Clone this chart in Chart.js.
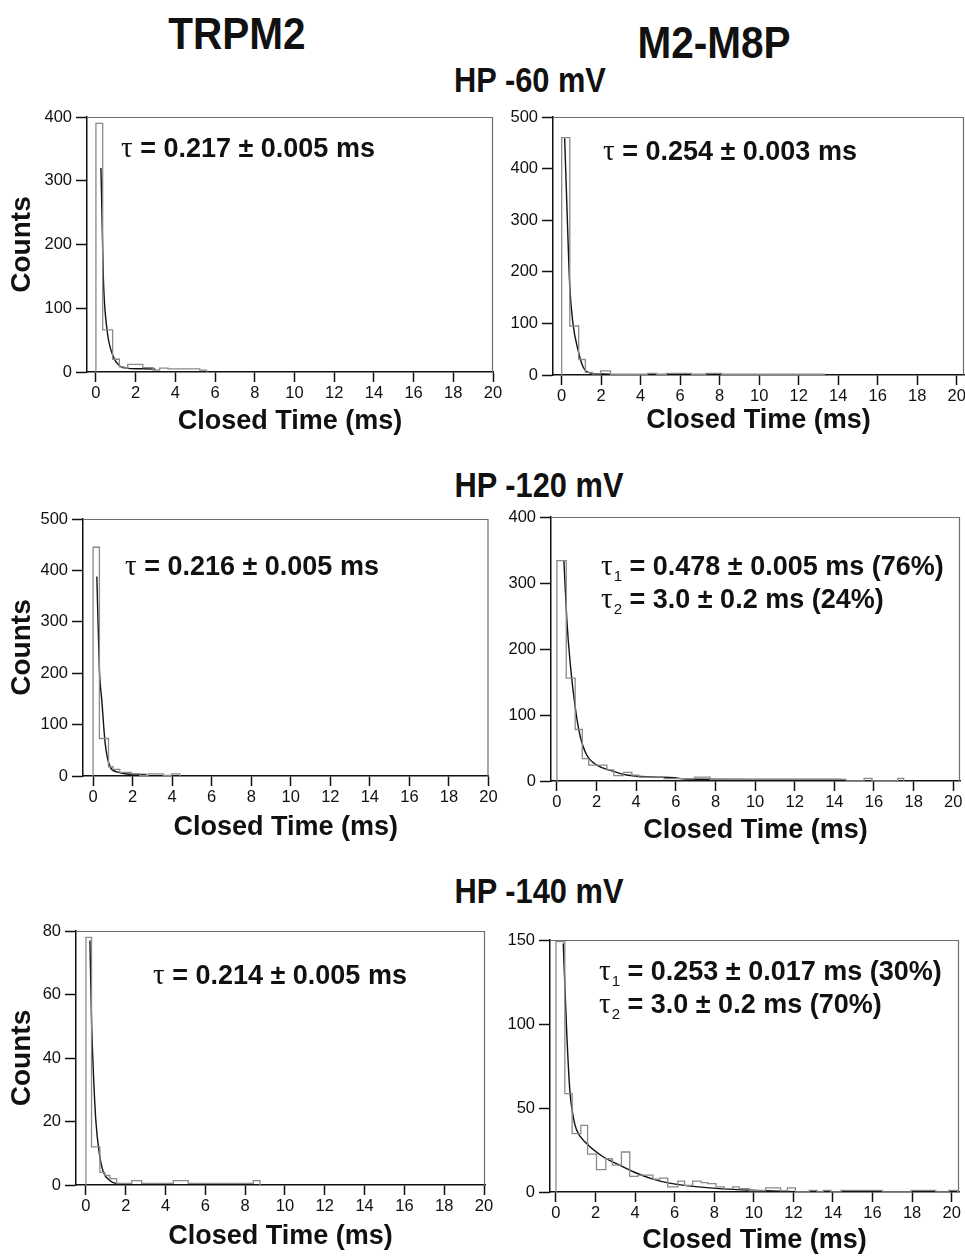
<!DOCTYPE html>
<html lang="en">
<head>
<meta charset="UTF-8" />
<title>Closed time histograms</title>
<style>
  body { margin: 0; background: #fff; }
  .page {
    position: relative;
    width: 965px;
    height: 1258px;
    overflow: hidden;
    font-family: "Liberation Sans", Arial, sans-serif;
    color: #111;
  }
  .panel { position: absolute; }
  .head {
    position: absolute;
    width: 400px;
    text-align: center;
    font-weight: bold;
    line-height: 1;
    white-space: nowrap;
    transform: scaleX(0.9);
  }
</style>
<script src="https://cdn.jsdelivr.net/npm/chart.js"></script>
</head>
<body>
<div class="page" id="page">
  <div class="head" style="left:37px; top:11px; font-size:45px;">TRPM2</div>
  <div class="head" style="left:514px; top:20px; font-size:45px;">M2-M8P</div>
  <div class="head" style="left:330px; top:62px; font-size:35px; transform:scaleX(0.88);">HP -60 mV</div>
  <div class="head" style="left:339px; top:467px; font-size:35px; transform:scaleX(0.88);">HP -120 mV</div>
  <div class="head" style="left:339px; top:873px; font-size:35px; transform:scaleX(0.88);">HP -140 mV</div>
</div>
<script>
// ---- data ----
const xTicks = [0, 2, 4, 6, 8, 10, 12, 14, 16, 18, 20];

// TRPM2, HP -60 mV
const trpm2_60_yTicks = [0, 100, 200, 300, 400];
const trpm2_60_edges = [0, 0.34, 0.84, 1.18, 1.42, 1.6, 2.36, 2.88, 3.21, 3.63, 5.23, 5.57];
const trpm2_60_counts = [390, 66, 20, 8, 6, 12, 7, 3, 6, 5, 3];
const trpm2_60_fitT = [0.25, 0.29, 0.37, 0.54, 0.88, 1.22, 1.55, 2.0, 2.4, 3.0];
const trpm2_60_fitY = [320, 270, 150, 71, 24, 9, 6, 5, 5, 4.5];

// M2-M8P, HP -60 mV
const m2m8p_60_yTicks = [0, 100, 200, 300, 400, 500];
const m2m8p_60_edges = [0, 0.41, 0.86, 1.2, 1.55, 1.97, 2.47, 4.35, 4.8, 5.3, 6.57, 7.3, 8.1, 13.3];
const m2m8p_60_counts = [460, 95, 30, 5, 2, 8, 1.5, 3, 1.5, 3, 1.5, 3, 1.5];
const m2m8p_60_fitT = [0.15, 0.27, 0.41, 0.57, 0.83, 1.08, 1.42, 2.1, 2.5];
const m2m8p_60_fitY = [459, 320, 171, 100, 48, 16, 4, 2, 1.5];

// TRPM2, HP -120 mV
const trpm2_120_yTicks = [0, 100, 200, 300, 400, 500];
const trpm2_120_edges = [0, 0.32, 0.78, 1.01, 1.35, 1.94, 2.37, 2.79, 3.55, 3.97, 4.39];
const trpm2_120_counts = [445, 73, 18, 13, 7, 4, 1, 4, 1, 4];
const trpm2_120_fitT = [0.19, 0.32, 0.44, 0.61, 0.86, 1.2, 1.7, 2.7];
const trpm2_120_fitY = [388, 206, 148, 64, 18, 8, 4, 3];

// M2-M8P, HP -120 mV
const m2m8p_120_yTicks = [0, 100, 200, 300, 400];
const m2m8p_120_edges = [0, 0.47, 0.92, 1.28, 1.6, 2.52, 2.87, 3.36, 3.78, 4.12, 5.4, 6.94, 7.73, 14.6, 15.5, 15.9, 17.2, 17.5];
const m2m8p_120_counts = [334, 156, 78, 34, 24, 17, 8, 13, 9, 6, 3.5, 6, 2.5, 0, 4, 0, 4];
const m2m8p_120_fitT = [0.35, 0.5, 0.67, 0.92, 1.18, 1.51, 2.02, 2.69, 3.53, 4.87, 5.9, 6.5, 9.9, 14.3, 14.7];
const m2m8p_120_fitY = [334, 244, 178, 112, 67, 39, 24, 16, 9, 6, 5, 3, 2.5, 2.5, 0];

// TRPM2, HP -140 mV
const trpm2_140_yTicks = [0, 20, 40, 60, 80];
const trpm2_140_edges = [0, 0.28, 0.7, 0.95, 1.2, 1.54, 2.3, 2.8, 4.39, 5.14, 8.41, 8.74];
const trpm2_140_counts = [78, 12, 4, 3, 2, 0.5, 1.4, 0.5, 1.4, 0.5, 1.4];
const trpm2_140_fitT = [0.2, 0.28, 0.37, 0.5, 0.67, 0.87, 1.2, 1.5, 2.0];
const trpm2_140_fitY = [77, 52, 36, 20, 10, 4.2, 1.4, 0.5, 0.3];

// M2-M8P, HP -140 mV
const m2m8p_140_yTicks = [0, 50, 100, 150];
const m2m8p_140_edges = [0, 0.45, 0.82, 1.26, 1.6, 2.05, 2.52, 2.85, 3.31, 3.73, 4.15, 4.9, 5.24, 5.65, 6.16,
  6.5, 6.91, 7.34, 7.67, 8.09, 8.51, 8.93, 9.26, 9.77, 10.6, 11.35, 11.7, 12.1, 12.8, 13.2, 13.5, 13.9,
  14.4, 16.5, 17.95, 19.2, 19.85, 20.3];
const m2m8p_140_counts = [149, 58.5, 34.7, 39.6, 22.6, 13.3, 19.8, 16, 23.8, 9.3, 10, 7.7, 8.3, 3, 6.5,
  4, 6.5, 5.6, 5, 3, 2, 3, 2, 0.8, 2.4, 0.8, 2.4, 0, 1, 0, 1, 0, 1, 0, 1, 0, 1];
const m2m8p_140_fitT = [0.37, 0.54, 0.7, 0.87, 1.04, 1.54, 2.38, 3.22, 4.06, 4.9, 5.74, 6.58, 8.26, 9.94, 11.6, 12.5];
const m2m8p_140_fitY = [148, 96.5, 60.8, 45, 37, 29, 21, 16, 11.3, 7.7, 5.3, 3.8, 2, 1, 0.4, 0];

// fit labels
const trpm2_60_note = [{ sub: "", text: " = 0.217 ± 0.005 ms" }];
const m2m8p_60_note = [{ sub: "", text: " = 0.254 ± 0.003 ms" }];
const trpm2_120_note = [{ sub: "", text: " = 0.216 ± 0.005 ms" }];
const m2m8p_120_note = [{ sub: "1", text: " = 0.478 ± 0.005 ms (76%)" }, { sub: "2", text: " = 3.0 ± 0.2 ms (24%)" }];
const trpm2_140_note = [{ sub: "", text: " = 0.214 ± 0.005 ms" }];
const m2m8p_140_note = [{ sub: "1", text: " = 0.253 ± 0.017 ms (30%)" }, { sub: "2", text: " = 3.0 ± 0.2 ms (70%)" }];

const FONT = '"Liberation Sans", Arial, sans-serif';
const INK = "#111";

// outline of a histogram: left edges + counts, drawn as a stepped line
function stepPoints(edges, counts) {
  const pts = [{ x: edges[0], y: 0 }];
  counts.forEach((c, i) => pts.push({ x: edges[i], y: c }));
  pts.push({ x: edges[edges.length - 1], y: 0 });
  return pts;
}

function fitPoints(ts, ys) {
  return ts.map((t, i) => ({ x: t, y: ys[i] }));
}

// grey top/right border of the plot box
const framePlugin = {
  id: "frame",
  beforeDatasetsDraw(chart) {
    const { ctx, chartArea: a } = chart;
    ctx.save();
    ctx.strokeStyle = "#6e6e6e";
    ctx.lineWidth = 1.2;
    ctx.beginPath();
    ctx.moveTo(a.left, a.top + 0.5);
    ctx.lineTo(a.right - 0.5, a.top + 0.5);
    ctx.lineTo(a.right - 0.5, a.bottom);
    ctx.stroke();
    ctx.restore();
  },
};

// tau annotation
const notePlugin = {
  id: "note",
  afterDraw(chart, args, opts) {
    const ctx = chart.ctx;
    ctx.save();
    ctx.fillStyle = INK;
    ctx.textBaseline = "alphabetic";
    ctx.textAlign = "left";
    opts.lines.forEach((line, i) => {
      let x = opts.x;
      const y = opts.y + i * opts.gap;
      ctx.font = '29px "Liberation Serif", "DejaVu Serif", serif';
      ctx.fillText("τ", x, y);
      x += ctx.measureText("τ").width;
      if (line.sub) {
        ctx.font = "15px " + FONT;
        ctx.fillText(line.sub, x + 1, y + 6);
        x += ctx.measureText(line.sub).width + 1;
      }
      ctx.font = "bold 27px " + FONT;
      ctx.fillText(line.text, x, y);
    });
    ctx.restore();
  },
};

function makePanel(p) {
  const page = document.getElementById("page");
  const cx = p.col === 0 ? 0 : 505;
  const cw = p.col === 0 ? 505 : 460;
  const cy = p.area.T - 20;
  const ch = p.area.B + 80 - cy;
  const yW = p.area.L - cx;
  const xH = cy + ch - p.area.B;

  const canvas = document.createElement("canvas");
  canvas.className = "panel";
  canvas.width = cw;
  canvas.height = ch;
  canvas.style.left = cx + "px";
  canvas.style.top = cy + "px";
  canvas.style.width = cw + "px";
  canvas.style.height = ch + "px";
  page.appendChild(canvas);

  new Chart(canvas, {
    type: "line",
    data: {
      datasets: [
        {
          data: stepPoints(p.edges, p.counts),
          stepped: "before",
          borderColor: "#8a8a8a",
          borderWidth: 1.3,
          pointRadius: 0,
          fill: false,
        },
        {
          data: fitPoints(p.fitT, p.fitY),
          borderColor: INK,
          borderWidth: 1.4,
          pointRadius: 0,
          cubicInterpolationMode: "monotone",
          fill: false,
        },
      ],
    },
    options: {
      responsive: false,
      animation: false,
      events: [],
      layout: { padding: { top: p.area.T - cy, right: cx + cw - p.area.R, left: 0, bottom: 0 } },
      plugins: {
        legend: { display: false },
        tooltip: { enabled: false },
        note: { lines: p.note, x: p.noteX - cx, y: p.noteY - cy, gap: 33 },
      },
      scales: {
        x: {
          type: "linear",
          min: p.xMin,
          max: p.xMax,
          afterBuildTicks: (s) => { s.ticks = xTicks.map((v) => ({ value: v })); },
          afterFit: (s) => { s.height = xH; s.paddingLeft = 0; s.paddingRight = 0; },
          grid: { drawOnChartArea: false, tickLength: 10, tickColor: INK, tickWidth: 1.5 },
          border: { color: INK, width: 1.5 },
          ticks: { color: INK, font: { family: FONT, size: 16.5 }, padding: 2, maxRotation: 0, autoSkip: false },
          title: {
            display: true,
            text: "Closed Time (ms)",
            color: INK,
            font: { family: FONT, size: 27, weight: "bold" },
            padding: { top: 0, bottom: xH - 16.2 - p.titleOff },
          },
        },
        y: {
          type: "linear",
          min: 0,
          max: p.yTicks[p.yTicks.length - 1],
          afterBuildTicks: (s) => { s.ticks = p.yTicks.map((v) => ({ value: v })); },
          afterFit: (s) => { s.width = yW; s.paddingTop = 0; s.paddingBottom = 0; },
          grid: { drawOnChartArea: false, tickLength: 11, tickColor: INK, tickWidth: 1.5 },
          border: { color: INK, width: 1.5 },
          ticks: { color: INK, font: { family: FONT, size: 16.5 }, padding: 4 },
          title: {
            display: p.col === 0,
            text: "Counts",
            color: INK,
            font: { family: FONT, size: 28, weight: "bold" },
            padding: { top: 5, bottom: 0 },
          },
        },
      },
    },
    plugins: [framePlugin, notePlugin],
  });
}

makePanel({
  col: 0, area: { L: 87, T: 117, R: 493, B: 372 }, xMin: -0.45, xMax: 20, titleOff: 49.7,
  yTicks: trpm2_60_yTicks, edges: trpm2_60_edges, counts: trpm2_60_counts,
  fitT: trpm2_60_fitT, fitY: trpm2_60_fitY, note: trpm2_60_note, noteX: 121, noteY: 157,
});
makePanel({
  col: 1, area: { L: 553, T: 117, R: 964, B: 375 }, xMin: -0.44, xMax: 20.37, titleOff: 46,
  yTicks: m2m8p_60_yTicks, edges: m2m8p_60_edges, counts: m2m8p_60_counts,
  fitT: m2m8p_60_fitT, fitY: m2m8p_60_fitY, note: m2m8p_60_note, noteX: 603, noteY: 160,
});
makePanel({
  col: 0, area: { L: 83, T: 519, R: 488.5, B: 776 }, xMin: -0.51, xMax: 20, titleOff: 52,
  yTicks: trpm2_120_yTicks, edges: trpm2_120_edges, counts: trpm2_120_counts,
  fitT: trpm2_120_fitT, fitY: trpm2_120_fitY, note: trpm2_120_note, noteX: 125, noteY: 575,
});
makePanel({
  col: 1, area: { L: 551, T: 517, R: 960, B: 781 }, xMin: -0.3, xMax: 20.34, titleOff: 50,
  yTicks: m2m8p_120_yTicks, edges: m2m8p_120_edges, counts: m2m8p_120_counts,
  fitT: m2m8p_120_fitT, fitY: m2m8p_120_fitY, note: m2m8p_120_note, noteX: 601, noteY: 575,
});
makePanel({
  col: 0, area: { L: 76, T: 931, R: 485, B: 1185 }, xMin: -0.5, xMax: 20.05, titleOff: 52,
  yTicks: trpm2_140_yTicks, edges: trpm2_140_edges, counts: trpm2_140_counts,
  fitT: trpm2_140_fitT, fitY: trpm2_140_fitY, note: trpm2_140_note, noteX: 153, noteY: 984,
});
makePanel({
  col: 1, area: { L: 550, T: 940, R: 959, B: 1192 }, xMin: -0.3, xMax: 20.37, titleOff: 49,
  yTicks: m2m8p_140_yTicks, edges: m2m8p_140_edges, counts: m2m8p_140_counts,
  fitT: m2m8p_140_fitT, fitY: m2m8p_140_fitY, note: m2m8p_140_note, noteX: 599, noteY: 980,
});
</script>
</body>
</html>
